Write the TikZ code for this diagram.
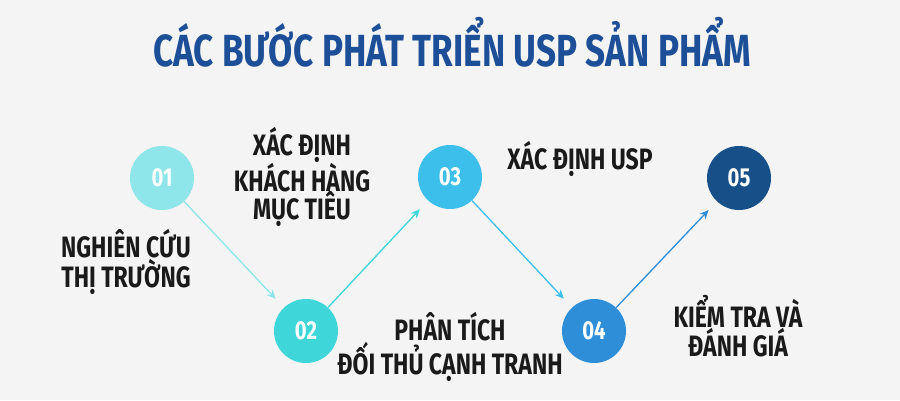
\documentclass[tikz,border=0pt]{standalone}
\usepackage{fontspec}
\setmainfont{Fira Sans}[FakeStretch=0.78,Numbers=Lining]
\usetikzlibrary{arrows.meta,positioning}
\definecolor{bg}{HTML}{F4F4F4}
\definecolor{ttl}{HTML}{1C4F97}
\definecolor{txt}{HTML}{1A1A1A}
\definecolor{c1}{HTML}{8EE6EA}
\definecolor{c2}{HTML}{3ED6D8}
\definecolor{c3}{HTML}{3CBFEB}
\definecolor{c4}{HTML}{2F8ED8}
\definecolor{c5}{HTML}{175089}

\begin{document}
\begin{tikzpicture}
  [x=1pt,y=-1pt,
   stepnum/.style={circle,minimum size=64pt,inner sep=0pt,text=white,
     font=\bfseries\fontsize{26}{26}\selectfont},
   steptxt/.style={align=center,text=txt,
     font=\bfseries\fontsize{29.5}{28.5}\selectfont}]
  \fill[bg] (0,0) rectangle (900,400);
  \useasboundingbox (0,0) rectangle (900,400);

  \node[text=ttl,font=\bfseries\fontsize{45}{45}\selectfont] (title) at (452,42) {CÁC BƯỚC PHÁT TRIỂN USP SẢN PHẨM};

  \node[stepnum,fill=c1] (s1) at (162,178) {01};
  \node[stepnum,fill=c2] (s2) at (306,331) {02};
  \node[stepnum,fill=c3] (s3) at (450,177) {03};
  \node[stepnum,fill=c4] (s4) at (594,331) {04};
  \node[stepnum,fill=c5] (s5) at (739,178) {05};

  \node[steptxt] (l1) at (126,262) {NGHIÊN CỨU\\THỊ TRƯỜNG};
  \node[steptxt] (l2) at (302,177) {XÁC ĐỊNH\\KHÁCH HÀNG\\MỤC TIÊU};
  \node[steptxt] (l3) at (580,159) {XÁC ĐỊNH USP};
  \node[steptxt] (l4) at (450,347) {PHÂN TÍCH\\ĐỐI THỦ CẠNH TRANH};
  \node[steptxt] (l5) at (738,326) {KIỂM TRA VÀ\\ĐÁNH GIÁ};

  \foreach \from/\to/\col in {s1/s2/c1,s2/s3/c2,s3/s4/c3,s4/s5/c4}
    \draw[\col,line width=1.3pt,-{Stealth[length=9pt,width=8pt]},shorten >=12pt] (\from) -- (\to);

\end{tikzpicture}
\end{document}
